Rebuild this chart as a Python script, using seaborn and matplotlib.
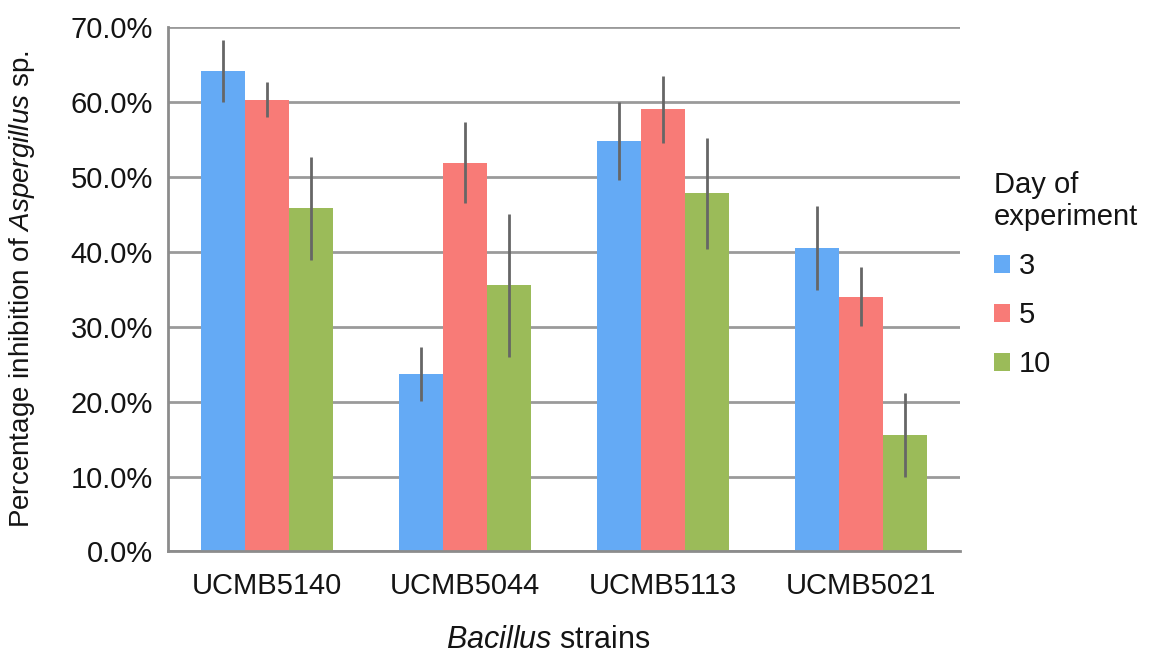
import pandas as pd
import numpy as np
import matplotlib
matplotlib.use('Agg')
import matplotlib.pyplot as plt
import seaborn as sns
from matplotlib.ticker import PercentFormatter

# Datos (porcentaje de inhibición)
strains = ['UCMB5140', 'UCMB5044', 'UCMB5113', 'UCMB5021']
days = ['3', '5', '10']
day3 = [64.1, 23.7, 54.8, 40.5]
day5 = [60.3, 51.9, 59.0, 34.0]
day10 = [45.8, 35.5, 47.8, 15.5]
err3 = [4.1, 3.6, 5.2, 5.6]
err5 = [2.35, 5.4, 4.5, 3.9]
err10 = [6.9, 9.6, 7.4, 5.6]

colors = ['#64aaf5', '#f87b77', '#9bbb59']

df = pd.DataFrame({
    'strain': strains * 3,
    'day': [d for d in days for _ in strains],
    'value': day3 + day5 + day10,
    'err': err3 + err5 + err10,
})

sns.set_style('white')
plt.rcParams['font.family'] = ['Liberation Sans', 'DejaVu Sans']
plt.rcParams['mathtext.fontset'] = 'custom'
plt.rcParams['mathtext.it'] = 'Liberation Sans:italic'
plt.rcParams['mathtext.rm'] = 'Liberation Sans'
plt.rcParams['text.color'] = '#141414'
plt.rcParams['axes.labelcolor'] = '#141414'
plt.rcParams['xtick.labelcolor'] = '#141414'
plt.rcParams['ytick.labelcolor'] = '#141414'

fig = plt.figure(figsize=(11.51, 6.56), dpi=100)
ax = fig.add_axes([0.146, 0.1593, 0.688, 0.7997])

sns.barplot(data=df, x='strain', y='value', hue='day', order=strains,
            hue_order=days, palette=colors, width=0.665, errorbar=None,
            saturation=1, linewidth=0, ax=ax)

# Barras de error (sin tapas)
for container, d in zip(ax.containers, days):
    sub = df[df['day'] == d].set_index('strain').loc[strains]
    xs = [p.get_x() + p.get_width() / 2 for p in container.patches]
    ax.errorbar(xs, sub['value'], yerr=sub['err'], fmt='none',
                ecolor='#666666', elinewidth=2, capsize=0, zorder=5)

ax.set_ylim(0, 70)
ax.set_xlim(-0.5, 3.5)
ax.set_yticks(np.arange(0, 71, 10))
ax.yaxis.set_major_formatter(PercentFormatter(decimals=1))
ax.grid(axis='y', color='#9a9a9a', linewidth=2)
ax.set_axisbelow(True)

for s in ['top', 'right']:
    ax.spines[s].set_visible(False)
for s in ['left', 'bottom']:
    ax.spines[s].set_color('#8c8c8c')
    ax.spines[s].set_linewidth(2)

ax.set_xticks(np.arange(-0.5, 4, 1), minor=True)
ax.tick_params(axis='x', which='major', length=0, labelsize=21, pad=15)
ax.tick_params(axis='x', which='minor', length=8, width=1.5, color='#8c8c8c')
ax.tick_params(axis='y', length=8, width=1.5, color='#8c8c8c', labelsize=21, pad=3)

ax.set_xlabel(r'$\it{Bacillus}$ strains', fontsize=22)
ax.xaxis.set_label_coords(0.48, -0.14)
ax.set_ylabel(r'Percentage inhibition of $\it{Aspergillus}$ sp.', fontsize=20)
ax.yaxis.set_label_coords(-0.165, 0.5)

leg = ax.legend(title='Day of\nexperiment', loc='upper left',
                bbox_to_anchor=(0.851, 0.762), bbox_transform=fig.transFigure,
                frameon=False, fontsize=21, title_fontsize=21,
                handlelength=0.55, handleheight=0.55, handletextpad=0.3,
                labelspacing=0.72, borderpad=0)
leg._legend_box.align = 'left'

fig.savefig('out.png', dpi=100)
